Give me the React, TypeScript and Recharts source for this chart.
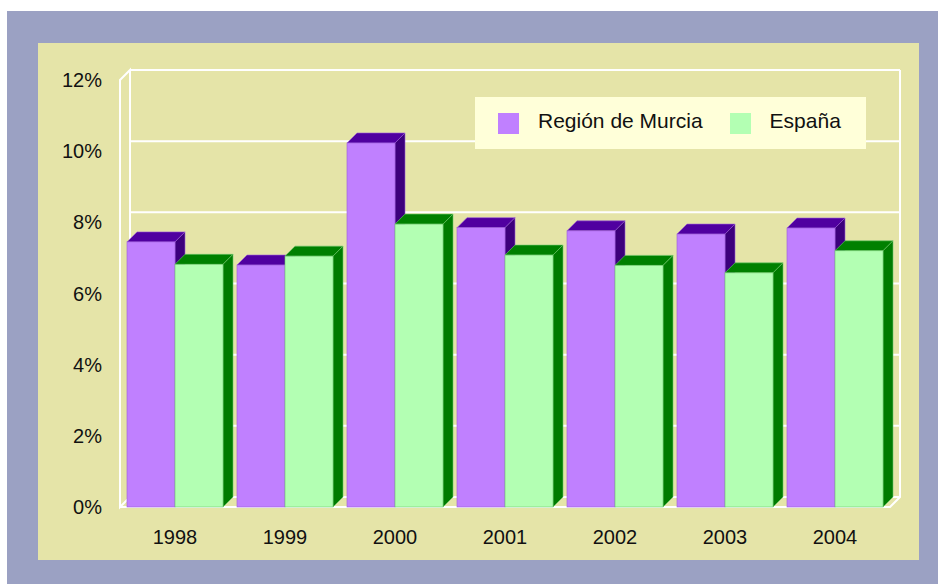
import React from "react";
import {
  Bar,
  BarChart,
  CartesianGrid,
  Legend,
  ReferenceArea,
  XAxis,
  YAxis,
} from "recharts";

// annual values (percent)
const years = ["1998", "1999", "2000", "2001", "2002", "2003", "2004"];
const murcia = [7.45, 6.8, 10.23, 7.85, 7.76, 7.67, 7.84];
const espana = [6.82, 7.05, 7.95, 7.08, 6.79, 6.58, 7.2];
const yTicks = [0, 2, 4, 6, 8, 10, 12];
const seriesNames = ["Región de Murcia", "España"];

const data = years.map((year, i) => ({ year, murcia: murcia[i], espana: espana[i] }));

const DEPTH = 10;
const FONT = "'Liberation Sans', Arial, sans-serif";

function box3d(front: string, top: string, side: string, edge: string) {
  return (props: any) => {
    const { x, y, width: w, height: h } = props;
    if (!h || h <= 0) return <g />;
    const d = DEPTH;
    return (
      <g>
        <polygon
          points={`${x},${y} ${x + d},${y - d} ${x + w + d},${y - d} ${x + w},${y}`}
          fill={top}
          stroke={edge}
          strokeWidth={0.6}
        />
        <polygon
          points={`${x + w},${y} ${x + w + d},${y - d} ${x + w + d},${y + h - d} ${x + w},${y + h}`}
          fill={side}
          stroke={edge}
          strokeWidth={0.6}
        />
        <rect x={x} y={y} width={w} height={h} fill={front} stroke={edge} strokeWidth={0.6} />
      </g>
    );
  };
}

function BackLine(props: any) {
  const { x1, y1, x2 } = props;
  return <line x1={x1 + DEPTH} y1={y1 - DEPTH} x2={x2 + DEPTH} y2={y1 - DEPTH} stroke="#ffffff" strokeWidth={2} />;
}

function Frame(props: any) {
  const { x, y, width: w, height: h } = props;
  const d = DEPTH;
  const s = { stroke: "#ffffff", strokeWidth: 2, fill: "none" };
  return (
    <g>
      <polyline points={`${x + d},${y + h - d} ${x + d},${y - d} ${x},${y} ${x},${y + h} ${x + d},${y + h - d}`} {...s} />
      <polyline points={`${x},${y + h} ${x + w},${y + h} ${x + w + d},${y + h - d} ${x + w + d},${y - d}`} {...s} />
    </g>
  );
}

function LegendBox({ payload }: any) {
  const items = [...(payload || [])].sort(
    (a: any, b: any) => seriesNames.indexOf(a.value) - seriesNames.indexOf(b.value)
  );
  return (
    <div style={{ position: "relative", width: 391, height: 52, background: "#ffffd9", fontFamily: FONT }}>
      <div style={{ position: "absolute", left: 23, top: 0, display: "flex", whiteSpace: "nowrap" }}>
        {items.map((item: any) => (
          <div key={item.value} style={{ display: "flex", marginRight: 27, flexShrink: 0 }}>
            <span style={{ width: 21, height: 21, marginTop: 16, background: item.color, display: "inline-block", flexShrink: 0 }} />
            <span style={{ marginLeft: 19, marginTop: 13, fontSize: 21, lineHeight: "21px", color: "#111" }}>{item.value}</span>
          </div>
        ))}
      </div>
    </div>
  );
}

export default function App() {
  return (
    <div style={{ position: "absolute", left: 0, top: 0, width: 938, height: 584, background: "#ffffff" }}>
      <div style={{ position: "absolute", left: 7, top: 11, width: 931, height: 573, background: "#9ba1c3" }} />
      <div style={{ position: "absolute", left: 38, top: 43, width: 881, height: 517, background: "#e5e4a8" }} />
      <div style={{ position: "absolute", left: 0, top: 0 }}>
        <BarChart
          width={938}
          height={584}
          data={data}
          margin={{ top: 80, right: 48, bottom: 47, left: 60 }}
          barSize={48}
          barGap={0}
        >
          <CartesianGrid vertical={false} horizontal={(p: any) => <BackLine key={p.key} {...p} />} />
          <ReferenceArea y1={0} y2={12} shape={(p: any) => <Frame {...p} />} ifOverflow="visible" />
          <XAxis
            dataKey="year"
            axisLine={false}
            tickLine={false}
            tickSize={0}
            tickMargin={23}
            height={30}
            tick={{ fill: "#111", fontSize: 20, fontFamily: FONT }}
          />
          <YAxis
            domain={[0, 12]}
            ticks={yTicks}
            tickFormatter={(v: number) => `${v}%`}
            axisLine={false}
            tickLine={false}
            tickSize={0}
            tickMargin={18}
            width={60}
            tick={{ fill: "#111", fontSize: 20, fontFamily: FONT }}
          />
          <Legend
            content={<LegendBox />}
            layout="vertical"
            align="center"
            verticalAlign="middle"
            wrapperStyle={{ position: "absolute", left: 475, top: 97, width: 391, height: 52 }}
          />
          <Bar
            dataKey="murcia"
            name={seriesNames[0]}
            fill="#c080ff"
            shape={box3d("#c080ff", "#5000a0", "#3c007c", "#9a5ad8")}
            isAnimationActive={false}
          />
          <Bar
            dataKey="espana"
            name={seriesNames[1]}
            fill="#b3ffb3"
            shape={box3d("#b3ffb3", "#008000", "#007c00", "#6cc86c")}
            isAnimationActive={false}
          />
        </BarChart>
      </div>
    </div>
  );
}
